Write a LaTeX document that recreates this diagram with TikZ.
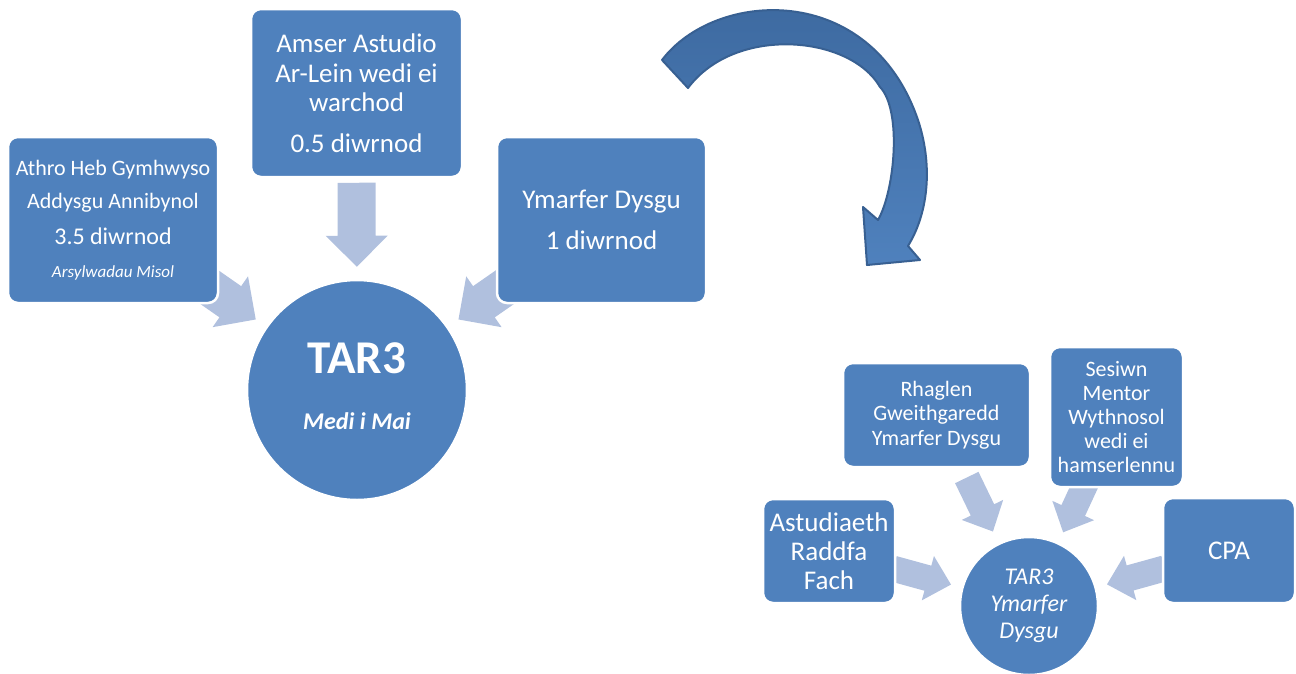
\documentclass[tikz,border=0pt]{standalone}
\usepackage{fontspec}
\setmainfont{Carlito}
\pgfdeclarelayer{back}
\pgfsetlayers{back,main}

\definecolor{boxblue}{RGB}{79,129,189}
\definecolor{arrowblue}{RGB}{176,192,222}
\definecolor{curvetop}{RGB}{60,104,158}
\definecolor{curvebot}{RGB}{79,129,189}
\definecolor{curveline}{RGB}{56,96,146}

\tikzset{
  card/.style={draw=white, line width=2.5pt, fill=boxblue, rounded corners=10pt,
    text=white, align=center, inner sep=0pt},
  hubnode/.style={circle, draw=white, line width=2.5pt, fill=boxblue,
    text=white, align=center, inner sep=0pt},
  bigarrow/.pic={\fill[arrowblue] (0,0) -- (-31,31) -- (-31,19) -- (-84,19)
    -- (-84,-19) -- (-31,-19) -- (-31,-31) -- cycle;},
  smallarrow/.pic={\fill[arrowblue] (0,0) -- (-24,23) -- (-24,13) -- (-60,13)
    -- (-60,-13) -- (-24,-13) -- (-24,-23) -- cycle;},
  onpath/.style={sloped, allow upside down, pos=#1}
}

\begin{document}
\begin{tikzpicture}[x=1pt,y=-1pt]
\useasboundingbox (0,0) rectangle (1296,673);

% first term
\node[hubnode, minimum size=220pt, font=\fontsize{24}{56}\selectfont, text depth=8pt] (hub) at (357,390)
  {{\bfseries\fontsize{47}{47}\selectfont TAR3}\\{\bfseries\itshape Medi i Mai}};
\node[card, minimum width=210pt, minimum height=166pt, font=\fontsize{22}{33}\selectfont] (lbox) at (113,220)
  {Athro Heb Gymhwyso\\Addysgu Annibynol\\[3pt]{\fontsize{24}{24}\selectfont 3.5 diwrnod}\\{\itshape\fontsize{17}{17}\selectfont Arsylwadau Misol}};
\node[card, minimum width=211pt, minimum height=168pt, font=\fontsize{27}{29.5}\selectfont] (tbox) at (356.5,93)
  {Amser Astudio\\Ar-Lein wedi ei\\warchod\\[11pt]0.5 diwrnod};
\node[card, minimum width=209pt, minimum height=166pt, font=\fontsize{27}{41}\selectfont] (rbox) at (601.5,220)
  {Ymarfer Dysgu\\1 diwrnod};

\begin{pgfonlayer}{back}
\path (lbox.center) -- (hub.center) pic[onpath=0.585] {bigarrow};
\path (tbox.center) -- (hub.center) pic[onpath=0.585] {bigarrow};
\path (rbox.center) -- (hub.center) pic[onpath=0.585] {bigarrow};
\end{pgfonlayer}

% curved arrow
\shade[top color=curvetop, bottom color=curvebot, draw=curveline, line width=2pt, line join=round]
  (662,60) .. controls (715,-10) and (870,-20) .. (918,120)
  .. controls (932,162) and (930,210) .. (908,246)
  -- (920,260) -- (867,265) -- (863,207) -- (878,220)
  .. controls (895,190) and (902,110) .. (880,87)
  .. controls (850,35) and (735,25) .. (688,88) -- cycle;

% practice
\node[hubnode, minimum size=138pt, font=\itshape\fontsize{24}{27}\selectfont] (hubb) at (1029,606)
  {TAR3\\Ymarfer\\Dysgu};
\node[card, minimum width=132pt, minimum height=104pt, font=\fontsize{27}{29}\selectfont] (astbox) at (829,551)
  {Astudiaeth\\Raddfa\\Fach};
\node[card, minimum width=187pt, minimum height=104pt, font=\fontsize{22}{24.5}\selectfont] (rhbox) at (936.5,415)
  {Rhaglen\\Gweithgaredd\\Ymarfer Dysgu};
\node[card, minimum width=133pt, minimum height=140pt, font=\fontsize{22}{24}\selectfont] (sesbox) at (1116.5,417)
  {Sesiwn\\Mentor\\Wythnosol\\wedi ei\\hamserlennu};
\node[card, minimum width=132pt, minimum height=105pt, font=\fontsize{27}{29}\selectfont] (cpabox) at (1229,550.5)
  {CPA};

\begin{pgfonlayer}{back}
\path (astbox.center) -- (hubb.center) pic[onpath=0.61] {smallarrow};
\path (rhbox.center) -- (hubb.center) pic[onpath=0.61] {smallarrow};
\path (sesbox.center) -- (hubb.center) pic[onpath=0.61] {smallarrow};
\path (cpabox.center) -- (hubb.center) pic[onpath=0.61] {smallarrow};
\end{pgfonlayer}
\end{tikzpicture}
\end{document}
